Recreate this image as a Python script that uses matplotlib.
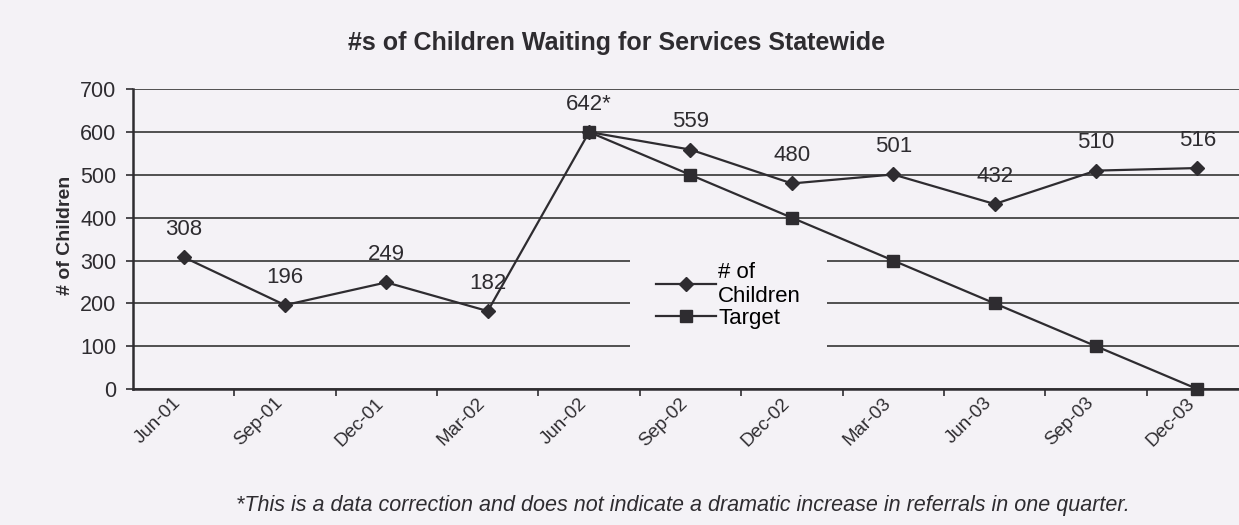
import matplotlib
matplotlib.use('Agg')
import matplotlib.pyplot as plt
from matplotlib.patches import Rectangle

# -- data
quarters = ['Jun-01', 'Sep-01', 'Dec-01', 'Mar-02', 'Jun-02', 'Sep-02',
            'Dec-02', 'Mar-03', 'Jun-03', 'Sep-03', 'Dec-03']
children = [308, 196, 249, 182, 600, 559, 480, 501, 432, 510, 516]
children_labels = ['308', '196', '249', '182', '642*', '559', '480', '501', '432', '510', '516']
target_quarters = ['Jun-02', 'Sep-02', 'Dec-02', 'Mar-03', 'Jun-03', 'Sep-03', 'Dec-03']
target = [600, 500, 400, 300, 200, 100, 0]
yticks = [0, 100, 200, 300, 400, 500, 600, 700]

bg = '#f4f2f6'
ink = '#2e2c30'
plt.rcParams['font.family'] = ['Liberation Sans', 'DejaVu Sans']

fig = plt.figure(figsize=[12.39, 5.25], dpi=100)
fig.patch.set_facecolor(bg)

# -- plot area runs off the right edge, like the scan
ax = fig.add_axes([0.1073, 0.259, 0.9, 0.571])
ax.set_facecolor(bg)

xc = list(range(len(quarters)))
xt = [quarters.index(q) for q in target_quarters]

ax.plot(xc, children, color=ink, lw=1.6, marker='D', ms=7, zorder=3,
        clip_on=False, label='# of\nChildren')
ax.plot(xt, target, color=ink, lw=1.6, marker='s', ms=8.5, zorder=3,
        clip_on=False, label='Target')

for x, y, s in zip(xc, children, children_labels):
    ax.annotate(s, (x, y), xytext=(0, 20), textcoords='offset points',
                ha='center', va='center', fontsize=16, color=ink, zorder=4)

ax.set_xlim(-0.5, len(quarters) - 0.5)
ax.set_ylim(0, 700)
ax.set_yticks(yticks)
# rotated labels end a little left of the category centre
ax.set_xticks([i - 0.11 for i in xc])
ax.set_xticklabels(quarters, rotation=45, ha='right', rotation_mode='anchor',
                   fontsize=13.5, color=ink)
ax.set_xticks([i + 0.5 for i in xc[:-1]], minor=True)
ax.tick_params(axis='x', which='major', length=0, pad=4)
ax.tick_params(axis='x', which='minor', length=5, width=1.2, color=ink)
ax.tick_params(axis='y', length=5, width=1.2, color=ink, labelsize=15.5,
               labelcolor=ink, pad=7)

ax.yaxis.grid(True, color='#505050', lw=1.4)
ax.set_axisbelow(True)
for side in ['top', 'right']:
    ax.spines[side].set_visible(False)
for side in ['left', 'bottom']:
    ax.spines[side].set_color(ink)
    ax.spines[side].set_linewidth(1.8)

# -- legend sits on a blank patch that breaks the gridlines
ax.add_patch(Rectangle((0.446, 0.11), 0.176, 0.39, transform=ax.transAxes,
                       facecolor=bg, edgecolor='none', zorder=1.5))
ax.legend(loc='upper left', bbox_to_anchor=(0.461, 0.455), frameon=False,
          fontsize=16, handlelength=2.7, handletextpad=0.1,
          labelspacing=0.05, borderaxespad=0)

ax.set_ylabel('# of Children', fontsize=14, fontweight='bold', color=ink)
ax.yaxis.set_label_coords(-0.053, 0.513)
fig.text(0.498, 0.918, '#s of Children Waiting for Services Statewide',
         ha='center', va='center', fontsize=18, fontweight='bold', color=ink)
fig.text(0.551, 0.038,
         '*This is a data correction and does not indicate a dramatic increase in referrals in one quarter.',
         ha='center', va='center', fontsize=15.5, style='italic', color=ink)

plt.savefig('out.png', dpi=100, facecolor=bg)
